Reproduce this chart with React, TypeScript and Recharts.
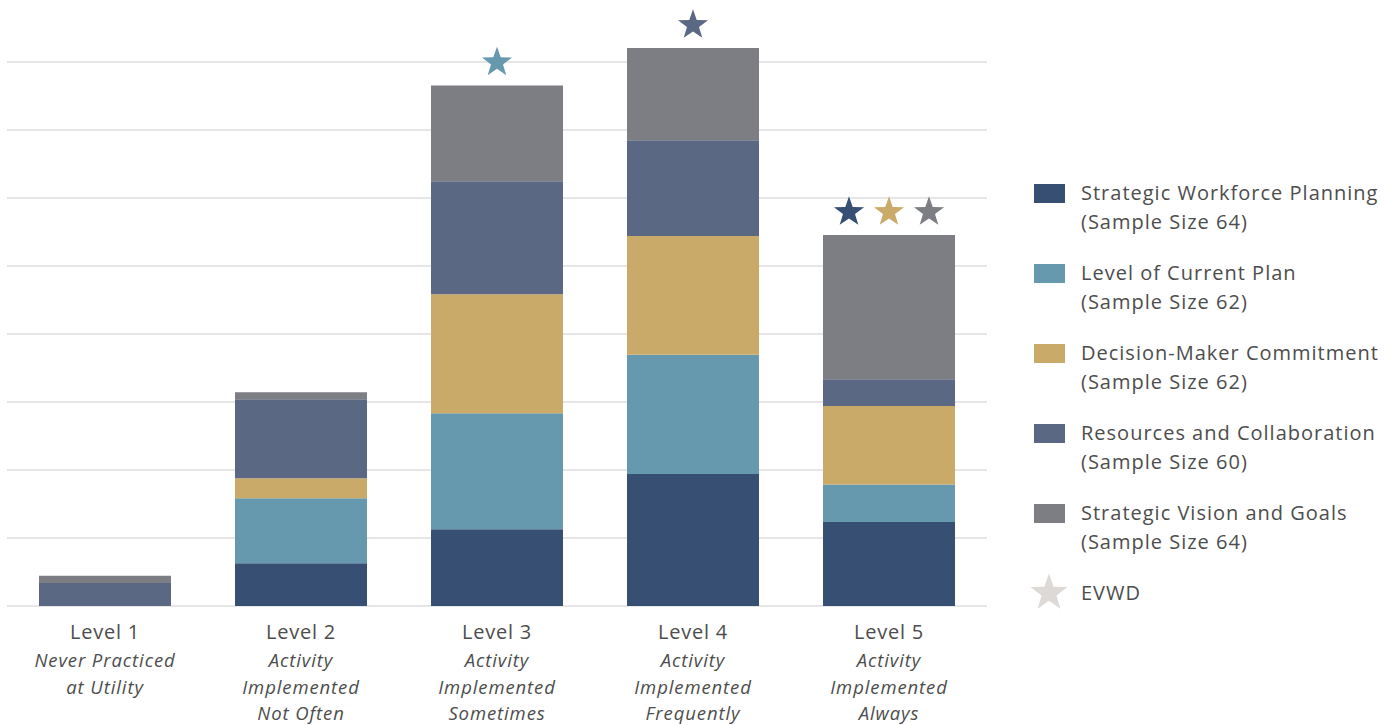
import { BarChart, Bar, XAxis, YAxis, CartesianGrid, LabelList } from 'recharts';

// Niveles de práctica (eje X)
const categories = ['Level 1', 'Level 2', 'Level 3', 'Level 4', 'Level 5'];
const subtitles = [
  ['Never Practiced', 'at Utility'],
  ['Activity', 'Implemented', 'Not Often'],
  ['Activity', 'Implemented', 'Sometimes'],
  ['Activity', 'Implemented', 'Frequently'],
  ['Activity', 'Implemented', 'Always'],
];

// Porcentaje de respuestas por nivel, una lista por serie
const workforcePlanning = [0, 12.6, 22.6, 38.8, 24.7];
const currentPlan = [0, 19.1, 34.1, 35.1, 11.0];
const commitment = [0, 5.9, 35.0, 34.9, 23.1];
const resources = [6.8, 23.2, 33.2, 28.2, 7.9];
const visionGoals = [2.1, 2.1, 28.2, 27.1, 42.4];

const yTicks = [0, 20, 40, 60, 80, 100, 120, 140, 160];

// Nivel donde está EVWD para cada serie
const series = [
  { key: 'swp', name: 'Strategic Workforce Planning', sample: 64, color: '#374f73', values: workforcePlanning, evwd: 'Level 5' },
  { key: 'lcp', name: 'Level of Current Plan', sample: 62, color: '#6799ae', values: currentPlan, evwd: 'Level 3' },
  { key: 'dmc', name: 'Decision-Maker Commitment', sample: 62, color: '#c9aa68', values: commitment, evwd: 'Level 5' },
  { key: 'rc', name: 'Resources and Collaboration', sample: 60, color: '#5b6883', values: resources, evwd: 'Level 4' },
  { key: 'svg', name: 'Strategic Vision and Goals', sample: 64, color: '#7d7e83', values: visionGoals, evwd: 'Level 5' },
];

const chartData = categories.map((cat, i) => {
  const row: any = { name: cat };
  series.forEach((s) => (row[s.key] = s.values[i]));
  return row;
});

const FONT = '"Open Sans", Lato, sans-serif';
const TEXT = '#4d4d4d';

function starPoints(cx: number, cy: number, r: number) {
  const pts: string[] = [];
  for (let i = 0; i < 10; i++) {
    const rad = i % 2 === 0 ? r : r * 0.4;
    const a = -Math.PI / 2 + (i * Math.PI) / 5;
    pts.push(`${cx + rad * Math.cos(a)},${cy + rad * Math.sin(a)}`);
  }
  return pts.join(' ');
}

// Estrellas EVWD encima de cada barra
const StarLabel = (props: any) => {
  const { x, y, width, index } = props;
  const stars = series.filter((s) => s.evwd === categories[index]);
  const cx = x + width / 2;
  return (
    <g>
      {stars.map((s, i) => (
        <polygon
          key={s.key}
          points={starPoints(cx + (i - (stars.length - 1) / 2) * 40, y - 23, 15.8)}
          fill={s.color}
        />
      ))}
    </g>
  );
};

const CategoryTick = ({ x, y, payload, index }: any) => {
  const lines = subtitles[index] || [];
  return (
    <g transform={`translate(${x},${y})`}>
      <text x={0} y={25} textAnchor="middle" fontSize={20} letterSpacing={0.8} fill={TEXT} fontFamily={FONT}>
        {payload.value}
      </text>
      {lines.map((l, i) => (
        <text
          key={i}
          x={0}
          y={53 + i * 26.5}
          textAnchor="middle"
          fontSize={18.5}
          letterSpacing={0.9}
          fontStyle="italic"
          fill={TEXT}
          fontFamily={FONT}
        >
          {l}
        </text>
      ))}
    </g>
  );
};

function App() {
  return (
    <div style={{ position: 'absolute', left: 0, top: 0, width: 1398, height: 725, background: '#fff' }}>
      <BarChart
        width={1398}
        height={725}
        data={chartData}
        margin={{ top: 28, right: 411, bottom: 0, left: 7 }}
        barSize={132}
      >
        <CartesianGrid vertical={false} horizontalValues={yTicks} stroke="#dedede" strokeWidth={1.5} />
        <XAxis
          dataKey="name"
          axisLine={false}
          tickLine={false}
          height={119}
          interval={0}
          tick={<CategoryTick />}
        />
        <YAxis hide domain={[0, 170]} ticks={yTicks} />
        {series.map((s, i) => (
          <Bar key={s.key} dataKey={s.key} stackId="a" fill={s.color} isAnimationActive={false}>
            {i === series.length - 1 && <LabelList dataKey={s.key} content={<StarLabel />} />}
          </Bar>
        ))}
      </BarChart>

      {/* Leyenda */}
      <div
        style={{
          position: 'absolute',
          left: 1034,
          top: 178,
          fontFamily: FONT,
          fontSize: 20,
          letterSpacing: 1,
          color: TEXT,
        }}
      >
        {series.map((s) => (
          <div key={s.key} style={{ display: 'flex', height: 60, marginBottom: 20, lineHeight: '29px' }}>
            <div style={{ width: 31, height: 19, marginTop: 6, background: s.color, flexShrink: 0 }} />
            <div style={{ marginLeft: 16, whiteSpace: 'nowrap' }}>
              <div>{s.name}</div>
              <div>(Sample Size {s.sample})</div>
            </div>
          </div>
        ))}
        <div style={{ display: 'flex', height: 30, lineHeight: '30px' }}>
          <svg width={40} height={30} style={{ marginLeft: -5, overflow: 'visible' }}>
            <polygon points={starPoints(20, 15, 19.5)} fill="#dcd9d6" />
          </svg>
          <div style={{ marginLeft: 12 }}>EVWD</div>
        </div>
      </div>
    </div>
  );
}

export default App;
